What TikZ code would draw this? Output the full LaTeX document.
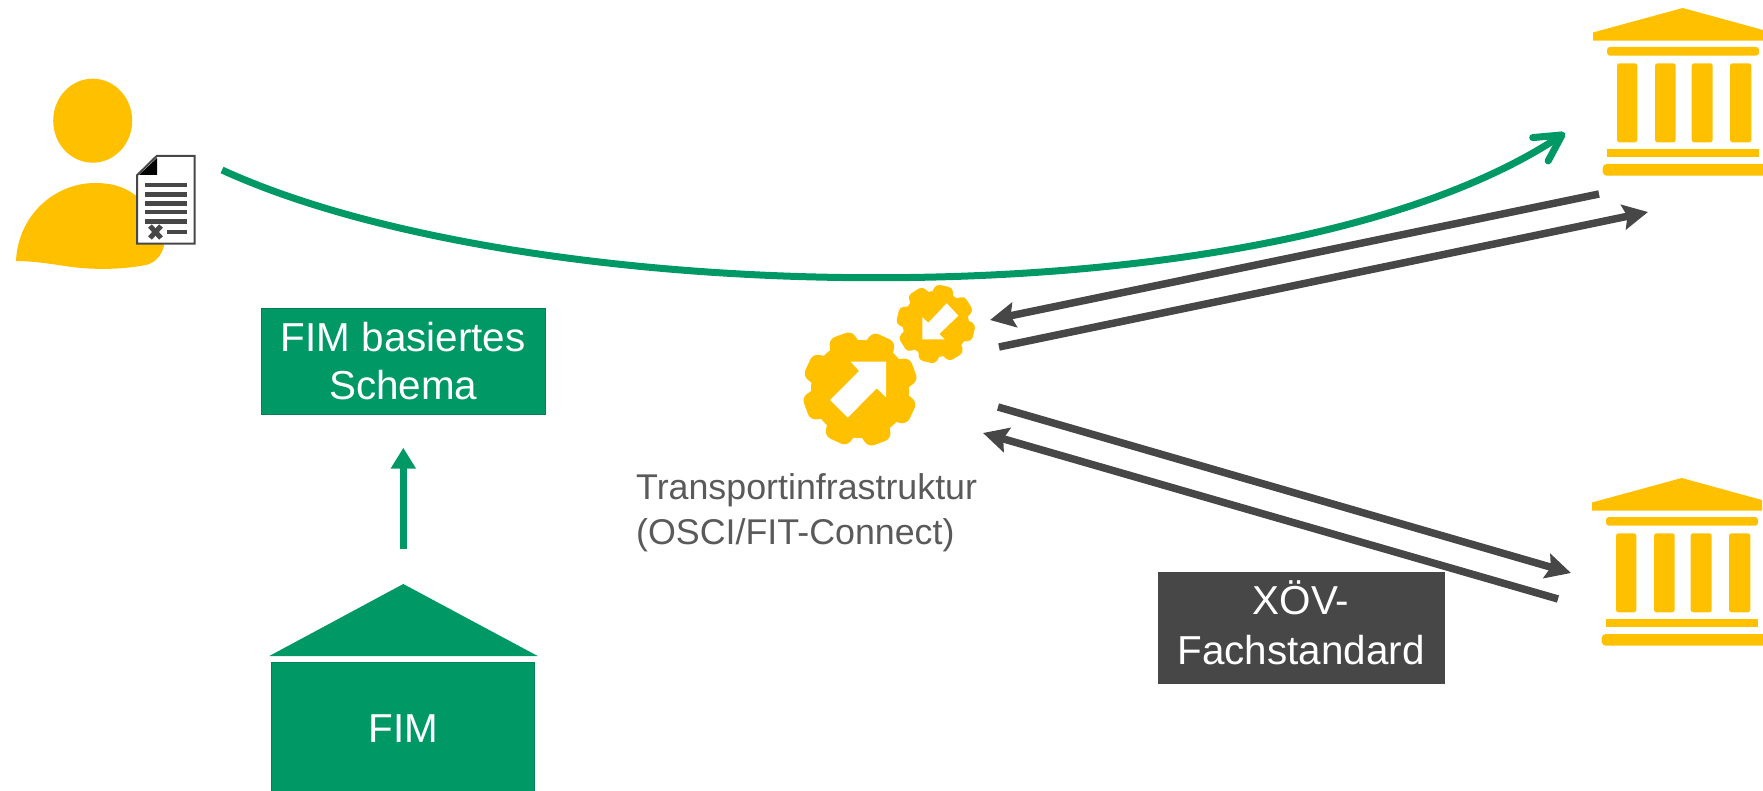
\documentclass[tikz,border=0pt]{standalone}
\usepackage{fontspec}
\setmainfont{Liberation Sans}
\usepackage{tikz}
\usetikzlibrary{arrows.meta,positioning}

\definecolor{fimgreen}{HTML}{009966}
\definecolor{amber}{HTML}{FFC000}
\definecolor{slate}{HTML}{474748}

\tikzset{
  greenbox/.style={rectangle, draw=fimgreen!85!black, line width=1pt, fill=fimgreen, text=white, align=center,
    font=\fontsize{40.4}{48}\selectfont},
  slatebox/.style={rectangle, fill=slate, text=white, align=center, font=\fontsize{40.4}{50}\selectfont},
  greenline/.style={color=fimgreen, line width=7pt},
  slateline/.style={color=slate, line width=7.5pt},
  temple/.pic={
    \fill[amber] (1593,32.5) -- (1682.7,8) -- (1763,30) -- (1763,40.7) -- (1593,40.7) -- cycle;
    \fill[amber, rounded corners=3pt] (1607,47) rectangle (1759,55.7);
    \foreach \colleft/\colright in {1617/1637.3,1655/1675.7,1691.7/1712.7,1730/1751.3}
      \fill[amber, rounded corners=2.5pt] (\colleft,63.3) rectangle (\colright,142.3);
    \fill[amber] (1607,149) rectangle (1759,156.7);
    \fill[amber, rounded corners=4pt] (1602.7,164) rectangle (1770,175.7);
  }
}

\begin{document}
\begin{tikzpicture}[x=1pt,y=-1pt,>={Stealth[length=25pt,width=25pt,inset=4pt]}]
  \useasboundingbox (0,0) rectangle (1763,791);

  % person with form
  \fill[amber] (92.7,120.7) ellipse [x radius=39.5pt, y radius=42pt];
  \fill[amber] (16,261) .. controls (18,215) and (55,183) .. (95,183)
    .. controls (125,183) and (150,195) .. (164,246)
    .. controls (162,255) and (155,263) .. (146,265)
    .. controls (120,270) and (90,270) .. (65,266)
    .. controls (45,263) and (30,261) .. (16,261) -- cycle;
  \draw[slate, fill=white, line width=2pt] (137,175.3) -- (156.7,156) -- (194.5,156) -- (194.5,243.7) -- (137,243.7) -- cycle;
  \fill[black] (139,175) -- (157,175) -- (157,158) -- cycle;
  \foreach \rowy in {185,194.7,203.3,212,221.3}
    \draw[slate, line width=4.5pt] (145.3,\rowy) -- (187.3,\rowy);
  \draw[slate, line width=4.5pt] (167.3,232) -- (187.3,232);
  \draw[slate, line width=5pt] (150,226) -- (161,238) (150,238) -- (161,226);

  % FIM side
  \node[greenbox, minimum width=284pt, minimum height=106pt] (schema) at (403.3,361.3) {FIM basiertes\\Schema};
  \node[greenbox, minimum width=263pt, minimum height=133pt] (fim) [below of=schema, node distance=367.2pt] {FIM};
  \fill[fimgreen] (269.3,656) -- (403.3,584) -- (537.7,656) -- cycle;
  \coordinate (fimtop) at (403.3,548.7);
  \coordinate (schemabottom) at (403.3,447.7);
  \draw[-{Triangle[length=21pt,width=24pt]}, greenline] (fimtop) -- (schemabottom);

  % transport gears
  \fill[amber] (860,389) circle (49pt);
  \foreach \toothangle in {20,65,...,335}
    \fill[amber, rounded corners=6pt, shift={(860,389)}, rotate=\toothangle] (38,-17) -- (57.5,-12) -- (57.5,12) -- (38,17) -- cycle;
  \fill[white] (886,361.7) -- (886,397.3) -- (876.7,388.3) -- (847.7,417.7) -- (830,400) -- (859,371) -- (850.7,361.7) -- cycle;
  \fill[amber] (935.8,324) circle (33pt);
  \foreach \toothangle in {32,77,...,347}
    \fill[amber, rounded corners=4pt, shift={(935.8,324)}, rotate=\toothangle] (26,-12) -- (39,-8.5) -- (39,8.5) -- (26,12) -- cycle;
  \fill[white] (922.3,339.3) -- (922.3,317.3) -- (928.3,322.7) -- (946.7,303.3) -- (958.3,315.7) -- (939.3,334) -- (944.7,339.3) -- cycle;
  \node[text=slate!90!white, align=left, inner sep=0pt, anchor=north west, font=\fontsize{35.8}{45.5}\selectfont]
    (transport) at (636,473) {Transportinfrastruktur\\(OSCI/FIT-Connect)};

  % authorities
  \pic (upper) at (0,0) {temple};
  \pic (lower) at (-1,470) {temple};
  \node[slatebox, minimum width=287pt, minimum height=112pt] (xoev) at (1301,627.5) {XÖV-\\Fachstandard\rule[-10pt]{0pt}{1pt}};

  % connectors
  \coordinate (formout) at (222,170);
  \coordinate (upperin) at (1565,133);
  \coordinate (a) at (1599,194);
  \coordinate (b) at (990,320);
  \coordinate (c) at (999,347);
  \coordinate (d) at (1648,212);
  \coordinate (e) at (998,407);
  \coordinate (f) at (1571,573);
  \coordinate (g) at (1558,599);
  \coordinate (h) at (983,433);
  \draw[-{Straight Barb[length=26pt,width=28pt,round]}, greenline] (formout) .. controls (534,313) and (1275,325) .. (upperin);
  \draw[slateline]
      (a) edge[->] (b)
      (c) edge[->] (d)
      (e) edge[->] (f)
      (g) edge[->] (h);
\end{tikzpicture}
\end{document}
